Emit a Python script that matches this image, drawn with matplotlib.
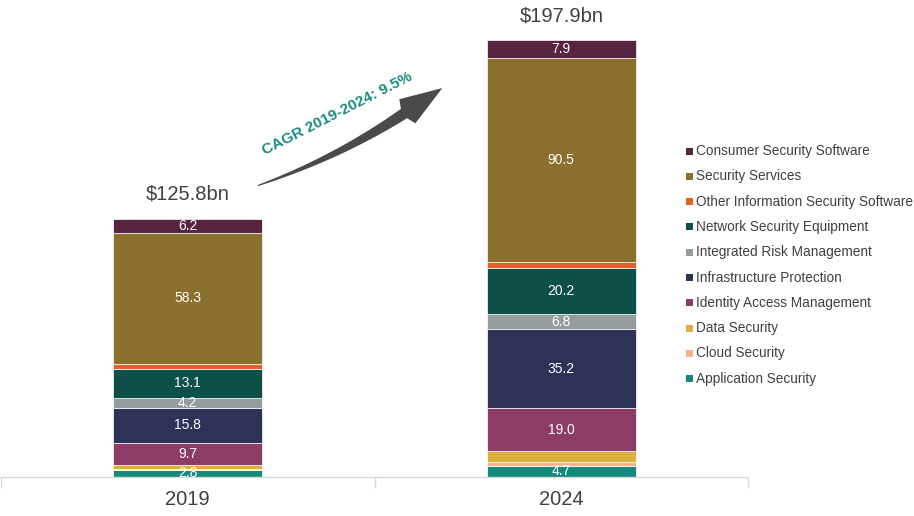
import matplotlib
matplotlib.use('Agg')
import matplotlib.pyplot as plt
import numpy as np
from matplotlib.patches import Polygon, Rectangle

plt.rcParams['font.family'] = ['Liberation Sans', 'DejaVu Sans']

# ---------------- data ----------------
years = ['2019', '2024']
application_security = [2.8, 4.7]
cloud_security = [0.5, 1.9]
data_security = [1.9, 4.7]
identity_access = [9.7, 19.0]
infrastructure_protection = [15.8, 35.2]
integrated_risk = [4.2, 6.8]
network_equipment = [13.1, 20.2]
other_software = [2.1, 3.0]
security_services = [58.3, 90.5]
consumer_software = [6.2, 7.9]
total_labels = ['$125.8bn', '$197.9bn']
cagr_label = 'CAGR 2019-2024: 9.5%'

# (name, values, colour, show value label) bottom -> top
series = [
    ('Application Security', application_security, '#138a7c', True),
    ('Cloud Security', cloud_security, '#f7b08e', False),
    ('Data Security', data_security, '#ddb03d', False),
    ('Identity Access Management', identity_access, '#8c3c66', True),
    ('Infrastructure Protection', infrastructure_protection, '#2e3256', True),
    ('Integrated Risk Management', integrated_risk, '#959c9e', True),
    ('Network Security Equipment', network_equipment, '#0d504a', True),
    ('Other Information Security Software', other_software, '#e0622a', False),
    ('Security Services', security_services, '#8b6f2d', True),
    ('Consumer Security Software', consumer_software, '#56243f', True),
]

W, H = 914, 516
fig = plt.figure(figsize=(W / 100, H / 100), dpi=100)

ax_left_px, ax_right_px = 1, 748
ax_bottom_px = 476.6
ymax = 205
px_per_unit = 2.25
ax_top_px = ax_bottom_px - ymax * px_per_unit
ax = fig.add_axes([ax_left_px / W, 1 - ax_bottom_px / H,
                   (ax_right_px - ax_left_px) / W, (ax_bottom_px - ax_top_px) / H])
ax.set_xlim(-0.5, 1.5)
ax.set_ylim(0, ymax)

x = np.arange(len(years))
bottom = np.zeros(len(years))
for name, vals, color, show in series:
    vals = np.array(vals)
    ax.bar(x, vals, 0.4, bottom=bottom, color=color, edgecolor='white',
           linewidth=0.5, zorder=2)
    if show:
        for xi, b, v in zip(x, bottom, vals):
            ax.text(xi, b + v / 2, f'{v:.1f}', ha='center', va='center',
                    color='white', fontsize=10, clip_on=True, zorder=3)
    bottom = bottom + vals

for xi, tot, lbl in zip(x, bottom, total_labels):
    ax.annotate(lbl, xy=(xi, tot), xytext=(0, 13.5), textcoords='offset points',
                ha='center', va='baseline', fontsize=14.5, color='#404040')

for s in ['top', 'left', 'right']:
    ax.spines[s].set_visible(False)
ax.spines['bottom'].set_color('#d9d9d9')
ax.spines['bottom'].set_linewidth(1)
ax.set_yticks([])
ax.set_xticks(x)
ax.set_xticklabels(years, fontsize=14.5, color='#404040')
ax.tick_params(axis='x', which='major', length=0, pad=10)
ax.set_xticks([-0.5, 0.5, 1.5], minor=True)
ax.tick_params(axis='x', which='minor', length=8, color='#d9d9d9', width=1)

# ---------------- overlay (pixel coordinates) ----------------
ov = fig.add_axes([0, 0, 1, 1])
ov.set_xlim(0, W)
ov.set_ylim(H, 0)
ov.axis('off')
ov.patch.set_visible(False)

# legend
leg_y0 = 151
leg_dy = 25.3
for i, (name, vals, color, show) in enumerate(reversed(series)):
    yy = leg_y0 + i * leg_dy
    ov.add_patch(Rectangle((686, yy - 3.5), 7, 7, color=color, lw=0))
    ov.text(696.5, yy, name, ha='left', va='center', fontsize=9.8, color='#404040')

# curved tapered arrow
P0 = np.array([258.0, 185.5])
C = np.array([337.0, 158.0])
P2 = np.array([404.0, 113.5])
t = np.linspace(0, 1, 60)
B = ((1 - t) ** 2)[:, None] * P0 + (2 * (1 - t) * t)[:, None] * C + (t ** 2)[:, None] * P2
D = (2 * (1 - t))[:, None] * (C - P0) + (2 * t)[:, None] * (P2 - C)
D = D / np.linalg.norm(D, axis=1)[:, None]
N = np.stack([-D[:, 1], D[:, 0]], axis=1)
hw = 0.6 + 5.0 * t
left = B + N * hw[:, None]
right = B - N * hw[:, None]
d_end = D[-1]
n_end = N[-1]
tip = P2 + d_end * 46
wing1 = P2 + n_end * 14.5 + d_end * 4
wing2 = P2 - n_end * 14.5 + d_end * 4
poly = np.vstack([left, wing1, tip, wing2, right[::-1]])
ov.add_patch(Polygon(poly, closed=True, color='#4a4a4a', lw=0))

ov.text(337, 114, cagr_label, rotation=27, rotation_mode='anchor',
        ha='center', va='center', fontsize=11, fontweight='bold', color='#1b8b7d')

fig.savefig('out.png', dpi=100)
